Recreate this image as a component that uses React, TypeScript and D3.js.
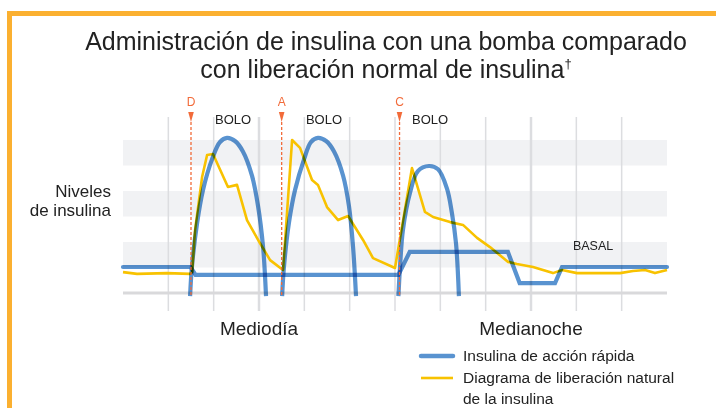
import * as d3 from 'd3';

const W = 716, H = 408;

// x = hour of the day (6h .. 30h = 6h next day), y = insulin level
const gridHours = [8, 10, 12, 14, 16, 18, 20, 22, 24, 26, 28];
const majorHours = [12, 24];
const xLabels = ['Mediodía', 'Medianoche'];
const xLabelHours = [12, 24];
const bandLevels = [[1, 2], [3, 4], [5, 6]];

const markerLabels = ['D', 'A', 'C'];
const markerHours = [9.0, 13.0, 18.2];
const boloHours = [10.06, 14.07, 18.75];
const basalLabelHour = 25.85;
const basalLabelLevel = 1.7;

const basal: [number, number][] = [
  [6, 1.02], [8.98, 1.02], [9.2, 0.71], [18.15, 0.71], [18.65, 1.61],
  [22.98, 1.61], [23.5, 0.39], [25.06, 0.39], [25.37, 1.02], [30, 1.02],
];

const bolus1: [number, number][] = [
  [8.96, -0.12], [9.04, 1.02], [9.27, 2.75], [9.53, 4.04], [9.93, 5.25],
  [10.28, 5.92], [10.59, 6.08], [10.94, 5.96], [11.29, 5.55], [11.69, 4.6],
  [11.96, 3.4], [12.18, 1.8], [12.31, -0.12],
];
const bolus2: [number, number][] = [
  [13.02, -0.12], [13.1, 1.02], [13.32, 2.75], [13.59, 4.04], [13.99, 5.25],
  [14.29, 5.92], [14.6, 6.08], [14.96, 5.96], [15.31, 5.55], [15.71, 4.6],
  [15.97, 3.4], [16.15, 1.8], [16.28, -0.12],
];
const bolus3: [number, number][] = [
  [18.15, -0.12], [18.22, 1.0], [18.35, 2.47], [18.66, 3.92], [19.01, 4.78],
  [19.5, 4.98], [19.9, 4.85], [20.29, 4.1], [20.51, 3.14], [20.69, 1.96],
  [20.82, -0.12],
];

const natural: [number, number][] = [
  [6.0, 0.82], [6.62, 0.75], [7.94, 0.78], [8.96, 0.75], [9.05, 0.82],
  [9.18, 2.47], [9.49, 4.55], [9.71, 5.41], [9.97, 5.45], [10.63, 4.16],
  [11.03, 4.24], [11.47, 2.86], [12.04, 1.96], [12.49, 1.29], [13.06, 0.9],
  [13.46, 6.0], [13.81, 5.69], [14.34, 4.43], [14.6, 4.24], [15.0, 3.37],
  [15.49, 2.86], [15.93, 3.02], [16.59, 2.08], [17.03, 1.37], [18.0, 0.98],
  [18.75, 4.9], [19.32, 3.18], [19.68, 2.98], [20.43, 2.78], [21.0, 2.67],
  [21.62, 2.16], [22.19, 1.8], [22.99, 1.22], [23.38, 1.14], [24.09, 1.02],
  [24.97, 0.78], [25.37, 0.9], [26.03, 0.78], [26.91, 0.78], [27.93, 0.78],
  [28.5, 0.86], [29.03, 0.9], [29.47, 0.78], [30.0, 0.9],
];

const legendItems = ['Insulina de acción rápida', 'Diagrama de liberación natural', 'de la insulina'];

const FONT = '"Liberation Sans", Arial, Helvetica, sans-serif';
const BLUE = '#5993d0';
const YELLOW = '#f8c200';
const RED = '#f26b3a';

const App = () => {
  const x = d3.scaleLinear().domain([6, 30]).range([123, 667]);
  const y = d3.scaleLinear().domain([0, 6]).range([293, 140]);

  const straight = d3.line<[number, number]>().x(d => x(d[0])).y(d => y(d[1]));
  const smooth = d3.line<[number, number]>()
    .curve(d3.curveCatmullRom.alpha(0.5))
    .x(d => x(d[0])).y(d => y(d[1]));

  const [x0, x1] = x.range();

  return (
    <svg width={W} height={H} style={{ position: 'absolute', left: 0, top: 0, display: 'block' }}
      fontFamily={FONT}>
      <rect width={W} height={H} fill="#fff" />
      {/* frame */}
      <path d={`M9.5,${H} V13.5 H${W}`} fill="none" stroke="#fbb030" strokeWidth={5} />

      {/* title */}
      <text x={386} y={50} textAnchor="middle" fontSize={25} fill="#222">
        Administración de insulina con una bomba comparado
      </text>
      <text x={386} y={78} textAnchor="middle" fontSize={25} fill="#222">
        con liberación normal de insulina<tspan fontSize={13} dy={-10}>†</tspan>
      </text>

      {/* y label */}
      <text x={111} y={197} textAnchor="end" fontSize={17} fill="#222">Niveles</text>
      <text x={111} y={216} textAnchor="end" fontSize={17} fill="#222">de insulina</text>

      {/* bands */}
      {bandLevels.map((b, i) => (
        <rect key={i} x={x0} width={x1 - x0} y={y(b[1])} height={y(b[0]) - y(b[1])} fill="#f1f2f4" />
      ))}

      {/* vertical grid */}
      {gridHours.map(h => (
        <line key={h} x1={x(h)} x2={x(h)} y1={117} y2={311}
          stroke="#dcdde0" strokeWidth={majorHours.includes(h) ? 2.5 : 1.5} />
      ))}

      {/* axis */}
      <line x1={x0} x2={x1} y1={y(0)} y2={y(0)} stroke="#d9d9db" strokeWidth={3} />

      {/* natural release */}
      <path d={straight(natural) || ''} fill="none" stroke={YELLOW} strokeWidth={2.6} strokeLinejoin="round" />

      {/* pump insulin */}
      <path d={straight(basal) || ''} fill="none" stroke={BLUE} strokeWidth={4.2}
        strokeLinecap="round" style={{ mixBlendMode: 'multiply' }} />
      {[bolus1, bolus2, bolus3].map((b, i) => (
        <path key={i} d={smooth(b) || ''} fill="none" stroke={BLUE} strokeWidth={4.2}
          style={{ mixBlendMode: 'multiply' }} />
      ))}

      {/* meal markers */}
      {markerHours.map((h, i) => (
        <g key={i}>
          <text x={x(h)} y={106} textAnchor="middle" fontSize={12} fill={RED}>{markerLabels[i]}</text>
          <path d={`M${x(h) - 2.8},112 L${x(h) + 2.8},112 L${x(h)},122 Z`} fill={RED} />
          <line x1={x(h)} x2={x(h)} y1={122} y2={296} stroke={RED} strokeWidth={1.3} strokeDasharray="3,2" />
          <text x={x(boloHours[i])} y={124} fontSize={13} fill="#222">BOLO</text>
        </g>
      ))}

      <text x={x(basalLabelHour)} y={y(basalLabelLevel)} fontSize={12.5} fill="#222">BASAL</text>

      {/* x labels */}
      {xLabels.map((l, i) => (
        <text key={l} x={x(xLabelHours[i])} y={335} textAnchor="middle" fontSize={19} fill="#222">{l}</text>
      ))}

      {/* legend */}
      <line x1={421} x2={453} y1={356} y2={356} stroke={BLUE} strokeWidth={4.5} strokeLinecap="round" />
      <line x1={421} x2={453} y1={378} y2={378} stroke={YELLOW} strokeWidth={2.6} />
      {legendItems.map((t, i) => (
        <text key={i} x={463} y={361 + i * 21.5} fontSize={15.5} fill="#222">{t}</text>
      ))}
    </svg>
  );
};

export default App;
